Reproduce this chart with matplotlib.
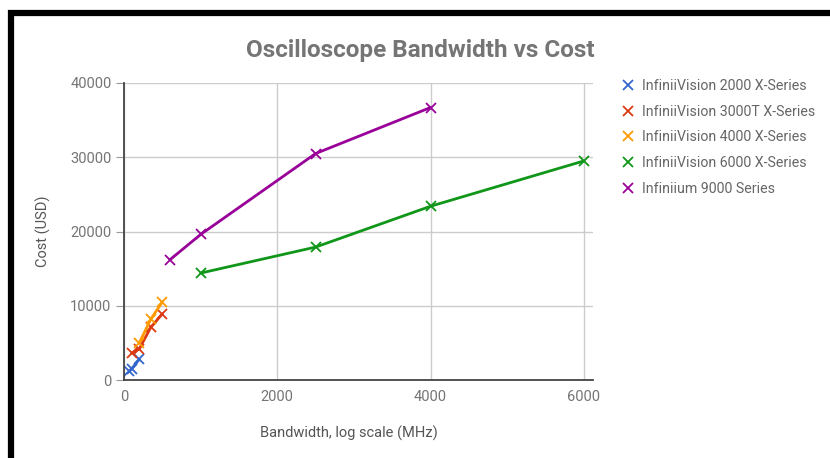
import matplotlib.pyplot as plt

plt.rcParams['font.family'] = ['Roboto', 'DejaVu Sans']

# *********************
# DATA
# *********************
series_names = [
    "InfiniiVision 2000 X-Series",
    "InfiniiVision 3000T X-Series",
    "InfiniiVision 4000 X-Series",
    "InfiniiVision 6000 X-Series",
    "Infiniium 9000 Series",
]
series_colors = ["#3366cc", "#dc3912", "#ff9900", "#109618", "#990099"]

bw_2000x = [70, 100, 200]
cost_2000x = [1200, 1500, 2800]

bw_3000t = [100, 200, 350, 500]
cost_3000t = [3600, 4200, 7100, 8900]

bw_4000x = [200, 350, 500]
cost_4000x = [5000, 8200, 10500]

bw_6000x = [1000, 2500, 4000, 6000]
cost_6000x = [14400, 17900, 23400, 29500]

bw_9000 = [600, 1000, 2500, 4000]
cost_9000 = [16200, 19600, 30500, 36700]

x_ticks = [0, 2000, 4000, 6000]
y_ticks = [0, 10000, 20000, 30000, 40000]

TEXT_GRAY = "#757575"

# *********************
# PLOT
# *********************
fig = plt.figure(figsize=(8.3, 4.58), dpi=100)
ax = fig.add_axes([124 / 830, 78 / 458, 469 / 830, 297 / 458])

all_series = [
    (bw_2000x, cost_2000x),
    (bw_3000t, cost_3000t),
    (bw_4000x, cost_4000x),
    (bw_6000x, cost_6000x),
    (bw_9000, cost_9000),
]
for (xs, ys), name, color in zip(all_series, series_names, series_colors):
    ax.plot(xs, ys, color=color, lw=2, marker='x', ms=6.5, mew=1.3,
            label=name, solid_capstyle='round')

ax.set_xlim(0, 6120)
ax.set_ylim(0, 40000)
ax.set_xticks(x_ticks)
ax.set_yticks(y_ticks)
ax.grid(True, color="#cccccc", lw=1)
ax.set_axisbelow(True)

for side in ['top', 'right']:
    ax.spines[side].set_visible(False)
for side in ['left', 'bottom']:
    ax.spines[side].set_color("#444444")
    ax.spines[side].set_linewidth(1.3)

ax.tick_params(axis='y', length=6, color="#999999", labelcolor=TEXT_GRAY,
               labelsize=10.5, pad=3)
ax.tick_params(axis='x', length=0, labelcolor=TEXT_GRAY, labelsize=10.5, pad=7)

ax.set_xlabel("Bandwidth, log scale (MHz)", color="#555555", fontsize=10.5)
ax.xaxis.set_label_coords(225 / 469, -0.155)
ax.set_ylabel("Cost (USD)", color="#555555", fontsize=10.5, labelpad=14)

fig.text(420 / 830, 1 - 51 / 458, "Oscilloscope Bandwidth vs Cost",
         ha='center', va='center', fontsize=17.5, fontweight='bold',
         color=TEXT_GRAY, fontstretch='condensed')

leg = ax.legend(loc='upper left', bbox_to_anchor=(609 / 830, 1 - 66 / 458),
                bbox_transform=fig.transFigure, frameon=False,
                fontsize=10.2, handlelength=0.9, handletextpad=0.55,
                labelspacing=0.83)
for text in leg.get_texts():
    text.set_color("#666666")
for handle in leg.get_lines():
    handle.set_linestyle('none')

# black frame along the top and left edge
fig.add_artist(plt.Line2D([10.5 / 830, 10.5 / 830], [0, 1 - 10 / 458],
                          color='black', lw=4.5, solid_capstyle='butt'))
fig.add_artist(plt.Line2D([8 / 830, 1], [1 - 13 / 458, 1 - 13 / 458],
                          color='black', lw=4.5, solid_capstyle='butt'))

fig.savefig("out.png", dpi=100)
